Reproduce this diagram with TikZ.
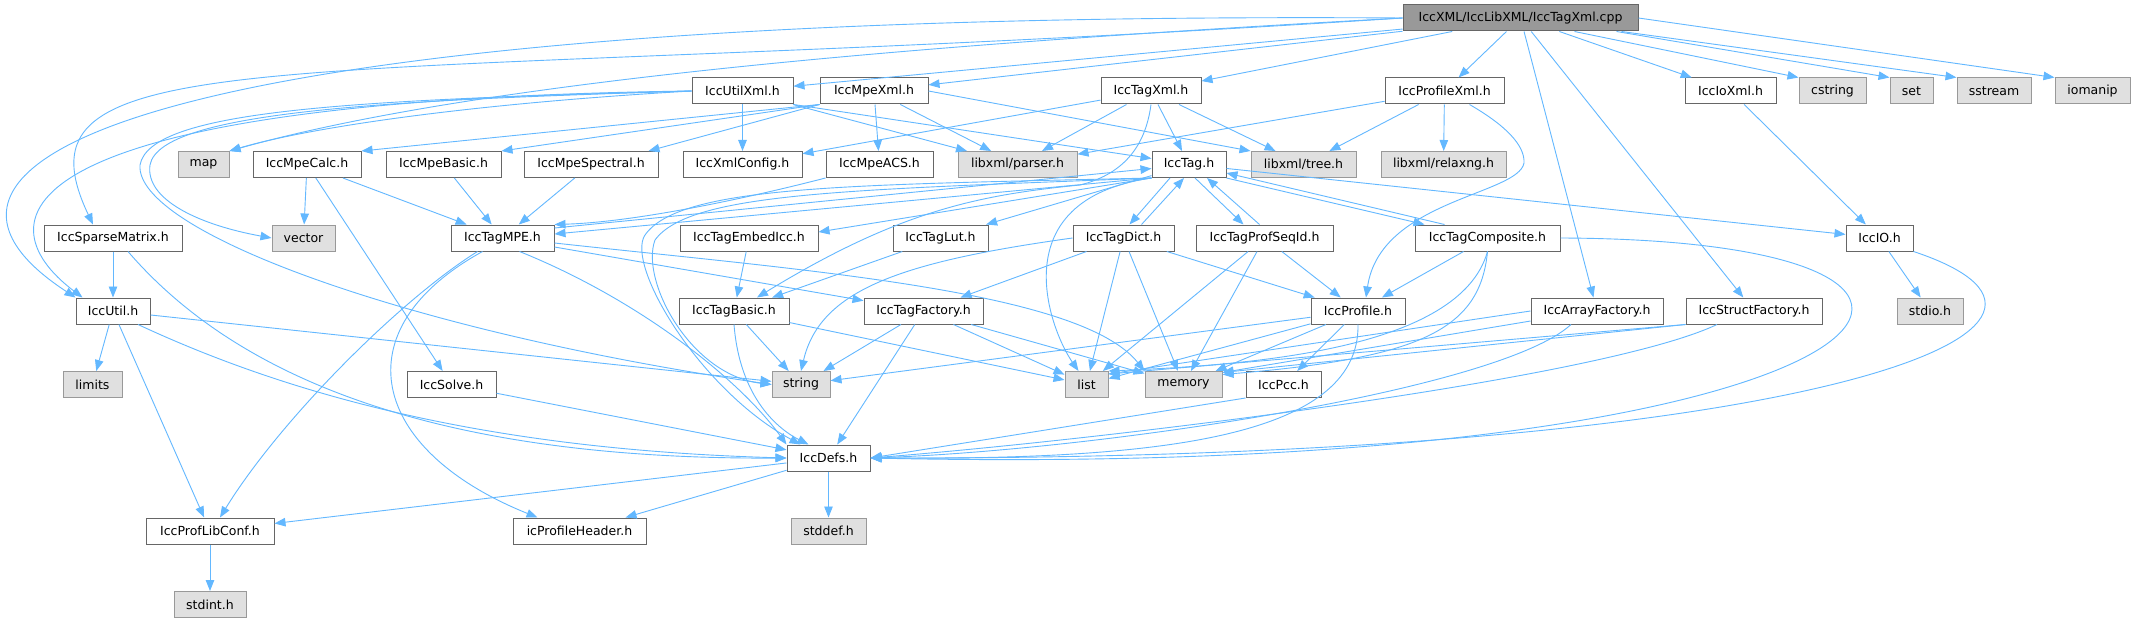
\documentclass[tikz,border=0pt]{standalone}
\usepackage{fontspec}
\setmainfont{DejaVu Sans}
\usepackage{tikz}
\usetikzlibrary{arrows.meta}

\definecolor{incblue}{HTML}{63B8FF}
\definecolor{srcgray}{HTML}{999999}
\definecolor{sysfill}{HTML}{E0E0E0}
\definecolor{hdrline}{HTML}{666666}

\begin{document}
\begin{tikzpicture}[
      hdr/.style={rectangle, draw=hdrline, fill=white, line width=1pt, minimum height=26, inner sep=0pt, font=\fontsize{12.5}{15}\selectfont},
      sys/.style={hdr, draw=srcgray, fill=sysfill},
      src/.style={hdr, fill=srcgray},
      inc/.style={-{Triangle[length=11pt, width=8.5pt]}, draw=incblue, line width=0.9pt},
      x=1pt, y=-1pt
    ]
    \path[use as bounding box, fill=white] (0,0) rectangle (2136,623);

    \node[src, minimum width=235] (root) at (1520.5,18) {IccXML/IccLibXML/IccTagXml.cpp};

    \node[hdr, minimum width=101] (utilxml) at (742.5,91) {IccUtilXml.h};
    \node[hdr, minimum width=108] (mpexml) at (874,91) {IccMpeXml.h};
    \node[hdr, minimum width=100] (tagxml) at (1151,91) {IccTagXml.h};
    \node[hdr, minimum width=119] (profxml) at (1444.5,91) {IccProfileXml.h};
    \node[hdr, minimum width=91] (ioxml) at (1730.5,91) {IccIoXml.h};
    \node[sys, minimum width=67] (cstring) at (1832.5,91) {cstring};
    \node[sys, minimum width=43] (set) at (1911.5,91) {set};
    \node[sys, minimum width=74] (sstream) at (1994,91) {sstream};
    \node[sys, minimum width=75] (iomanip) at (2092.5,91) {iomanip};

    \node[sys, minimum width=51] (map) at (203.5,164.5) {map};
    \node[hdr, minimum width=108] (mpecalc) at (307,164.5) {IccMpeCalc.h};
    \node[hdr, minimum width=115] (mpebasic) at (443.5,164.5) {IccMpeBasic.h};
    \node[hdr, minimum width=134] (mpespec) at (591,164.5) {IccMpeSpectral.h};
    \node[hdr, minimum width=119] (xmlconfig) at (742.5,164.5) {IccXmlConfig.h};
    \node[hdr, minimum width=107] (mpeacs) at (879.5,164.5) {IccMpeACS.h};
    \node[sys, minimum width=119] (parser) at (1017.5,164.5) {libxml/parser.h};
    \node[hdr, minimum width=74] (tag) at (1189,164.5) {IccTag.h};
    \node[sys, minimum width=105] (tree) at (1303.5,164.5) {libxml/tree.h};
    \node[sys, minimum width=125] (relaxng) at (1443.5,164.5) {libxml/relaxng.h};

    \node[hdr, minimum width=138] (sparse) at (113,238) {IccSparseMatrix.h};
    \node[sys, minimum width=63] (vector) at (303.5,238) {vector};
    \node[hdr, minimum width=103] (tagmpe) at (502.5,238) {IccTagMPE.h};
    \node[hdr, minimum width=138] (embed) at (749,238) {IccTagEmbedIcc.h};
    \node[hdr, minimum width=95] (taglut) at (940.5,238) {IccTagLut.h};
    \node[hdr, minimum width=101] (dict) at (1123.5,238) {IccTagDict.h};
    \node[hdr, minimum width=137] (seqid) at (1264.5,238) {IccTagProfSeqId.h};
    \node[hdr, minimum width=145] (composite) at (1487.5,238) {IccTagComposite.h};
    \node[hdr, minimum width=67] (iccio) at (1879.5,238) {IccIO.h};

    \node[hdr, minimum width=74] (util) at (113,311) {IccUtil.h};
    \node[hdr, minimum width=110] (tagbasic) at (734,311) {IccTagBasic.h};
    \node[hdr, minimum width=119] (factory) at (923.5,311) {IccTagFactory.h};
    \node[hdr, minimum width=94] (profile) at (1358,311) {IccProfile.h};
    \node[hdr, minimum width=132] (arrayfac) at (1597,311) {IccArrayFactory.h};
    \node[hdr, minimum width=136] (structfac) at (1754,311) {IccStructFactory.h};
    \node[sys, minimum width=66] (stdio) at (1930,311) {stdio.h};

    \node[sys, minimum width=59] (limits) at (92.5,384.5) {limits};
    \node[hdr, minimum width=89] (solve) at (451.5,384.5) {IccSolve.h};
    \node[sys, minimum width=58] (string) at (801,384.5) {string};
    \node[sys, minimum width=43] (list) at (1086.5,384.5) {list};
    \node[sys, minimum width=77] (memory) at (1183.5,384.5) {memory};
    \node[hdr, minimum width=75] (pcc) at (1283.5,384.5) {IccPcc.h};

    \node[hdr, minimum width=83] (defs) at (828.5,458) {IccDefs.h};

    \node[hdr, minimum width=128] (libconf) at (210,531) {IccProfLibConf.h};
    \node[hdr, minimum width=133] (header) at (579.5,531) {icProfileHeader.h};
    \node[sys, minimum width=75] (stddef) at (828.5,531) {stddef.h};

    \node[sys, minimum width=72] (stdint) at (210,604.5) {stdint.h};

    \draw[inc] (root) -- (utilxml);
    \draw[inc] (root) -- (mpexml);
    \draw[inc] (root) -- (tagxml);
    \draw[inc] (root) -- (profxml);
    \draw[inc] (root) -- (ioxml);
    \draw[inc] ([xshift=54]root.south) -- (cstring.north west);
    \draw[inc] ([xshift=96]root.south) -- (set.north west);
    \draw[inc] ([xshift=101]root.south) -- (sstream.north west);
    \draw[inc] (root.east) -- (iomanip.north west);
    \draw[inc] (root) -- (arrayfac);
    \draw[inc] (root) -- (structfac);
    \draw[inc] (root.west) .. controls (1000,40) and (500,75) .. (map.north east);
    \draw[inc] (root.west) .. controls (300,90) and (0,30) .. ([xshift=-20]sparse.north);
    \draw[inc] (root.west) .. controls (200,10) and (-150,150) .. (util.north west);

    \draw[inc] (utilxml) -- (xmlconfig);
    \draw[inc] (utilxml) -- (parser);
    \draw[inc] (utilxml.south east) -- ([yshift=6]tag.west);
    \draw[inc] (utilxml.west) .. controls (450,105) and (300,130) .. (map.north east);
    \draw[inc] (utilxml.west) .. controls (400,100) and (160,110) .. (150,165) .. controls (145,200) and (200,225) .. (vector.west);
    \draw[inc] (utilxml.west) .. controls (350,100) and (150,110) .. (140,165) .. controls (135,230) and (400,330) .. (string.west);
    \draw[inc] (utilxml.west) .. controls (0,100) and (-20,220) .. ([xshift=7]util.north west);

    \draw[inc] (mpexml.south west) -- (mpecalc.north east);
    \draw[inc] (mpexml.south west) -- (mpebasic.north east);
    \draw[inc] (mpexml.south west) -- ([xshift=-10]mpespec.north east);
    \draw[inc] (mpexml) -- (mpeacs);
    \draw[inc] (mpexml) -- (parser);
    \draw[inc] (mpexml.east) -- (tree.north west);

    \draw[inc] (tagxml) -- (xmlconfig);
    \draw[inc] (tagxml) -- (parser);
    \draw[inc] (tagxml) -- (tag);
    \draw[inc] (tagxml) -- (tree);
    \draw[inc] (tagxml.south) .. controls (1145,150) and (1120,175) .. (1080,185) .. controls (980,195) and (900,210) .. ([xshift=23]tagbasic.north);

    \draw[inc] (profxml) -- (parser);
    \draw[inc] (profxml) -- (tree);
    \draw[inc] (profxml) -- (relaxng);
    \draw[inc] ([xshift=25]profxml.south) .. controls (1505,125) and (1525,145) .. (1524,163) .. controls (1518,195) and (1380,200) .. ([xshift=8]profile.north);

    \draw[inc] (ioxml) -- (iccio);

    \draw[inc] (mpecalc) -- (vector);
    \draw[inc] (mpecalc) -- (tagmpe);
    \draw[inc] (mpecalc) -- (solve);
    \draw[inc] (mpebasic) -- (tagmpe);
    \draw[inc] (mpespec) -- (tagmpe);
    \draw[inc] (mpeacs.south west) .. controls (760,195) and (640,222) .. (tagmpe.north east);

    \draw[inc] (tag.south west) -- ([yshift=4]tagmpe.east);
    \draw[inc] ([yshift=10]tagmpe.east) -- ([yshift=-4]tag.west);
    \draw[inc] (tag.south west) -- ([yshift=6]embed.east);
    \draw[inc] (tag) -- (taglut);
    \draw[inc] ([xshift=-19]tag.south) -- ([xshift=6]dict.north);
    \draw[inc] ([xshift=18]dict.north) -- ([xshift=-5]tag.south);
    \draw[inc] ([xshift=6]tag.south) -- ([xshift=-21]seqid.north);
    \draw[inc] ([xshift=-5]seqid.north) -- ([xshift=18]tag.south);
    \draw[inc] (tag.south east) -- ([xshift=10]composite.north west);
    \draw[inc] ([xshift=30]composite.north west) -- ([yshift=5]tag.south east);
    \draw[inc] (tag) -- (iccio);
    \draw[inc] (tag.south west) .. controls (850,185) and (680,185) .. (645,235) .. controls (625,265) and (700,390) .. ([xshift=-28]defs.north);
    \draw[inc] (tag.south west) .. controls (850,190) and (690,192) .. (655,240) .. controls (640,280) and (690,375) .. (string.west);
    \draw[inc] (tag.south west) .. controls (1000,200) and (1050,330) .. ([xshift=-8]list.north);

    \draw[inc] (tagmpe) -- (factory);
    \draw[inc] ([yshift=-5]tagmpe.east) .. controls (800,270) and (1080,290) .. (memory.north west);
    \draw[inc] ([xshift=17]tagmpe.south) .. controls (640,300) and (740,380) .. (defs.north west);
    \draw[inc] ([xshift=-25]tagmpe.south) .. controls (400,300) and (280,420) .. ([xshift=10]libconf.north);
    \draw[inc] ([xshift=-20]tagmpe.south) .. controls (340,330) and (370,450) .. ([xshift=-42]header.north);

    \draw[inc] (dict.west) .. controls (900,262) and (820,290) .. (string.north);
    \draw[inc] (dict) -- (factory);
    \draw[inc] (dict) -- (list);
    \draw[inc] (dict) -- (memory);
    \draw[inc] (dict) -- (profile);

    \draw[inc] (seqid) -- (list);
    \draw[inc] (seqid) -- (memory);
    \draw[inc] (seqid) -- (profile);

    \draw[inc] (composite) -- (profile);
    \draw[inc] (composite.south) .. controls (1460,350) and (1250,365) .. (list.north east);
    \draw[inc] (composite.south) .. controls (1480,330) and (1420,358) .. ([yshift=10]memory.east);
    \draw[inc] (composite.east) .. controls (2100,240) and (1900,480) .. (defs.east);

    \draw[inc] (iccio) -- (stdio);
    \draw[inc] (iccio.south east) .. controls (2150,330) and (1800,460) .. (defs.east);

    \draw[inc] (profile) -- (string);
    \draw[inc] (profile) -- (list);
    \draw[inc] (profile) -- (memory);
    \draw[inc] (profile) -- (pcc);
    \draw[inc] (profile.south) .. controls (1360,440) and (1150,460) .. (defs.east);

    \draw[inc] (arrayfac.west) -- ([yshift=-3]list.north east);
    \draw[inc] ([yshift=-10]arrayfac.west) -- ([yshift=12]memory.east);
    \draw[inc] ([xshift=-26]arrayfac.south) .. controls (1500,390) and (1100,450) .. (defs.east);
    \draw[inc] (structfac.south west) -- ([yshift=-3]list.north east);
    \draw[inc] (structfac.south west) -- ([yshift=12]memory.east);
    \draw[inc] ([xshift=-37]structfac.south) .. controls (1600,380) and (1100,440) .. (defs.east);

    \draw[inc] (embed) -- (tagbasic);
    \draw[inc] (taglut) -- (tagbasic);
    \draw[inc] (tagbasic) -- (string);
    \draw[inc] (tagbasic) -- (list);
    \draw[inc] (tagbasic.south) .. controls (740,400) and (780,430) .. ([xshift=-20]defs.north);
    \draw[inc] (factory) -- (string);
    \draw[inc] (factory) -- (defs);
    \draw[inc] (factory) -- (list);
    \draw[inc] (factory) -- (memory);

    \draw[inc] (sparse) -- (util);
    \draw[inc] ([xshift=15]sparse.south) .. controls (230,370) and (420,460) .. (defs.west);
    \draw[inc] (util) -- (limits);
    \draw[inc] (util) -- (libconf);
    \draw[inc] (util) -- (string);
    \draw[inc] ([xshift=25]util.south) .. controls (300,400) and (500,450) .. (defs.west);
    \draw[inc] (solve) -- (defs);
    \draw[inc] (pcc.south west) -- (defs.east);

    \draw[inc] (defs) -- (libconf);
    \draw[inc] (defs) -- (header);
    \draw[inc] (defs) -- (stddef);
    \draw[inc] (libconf) -- (stdint);
  \end{tikzpicture}
\end{document}
